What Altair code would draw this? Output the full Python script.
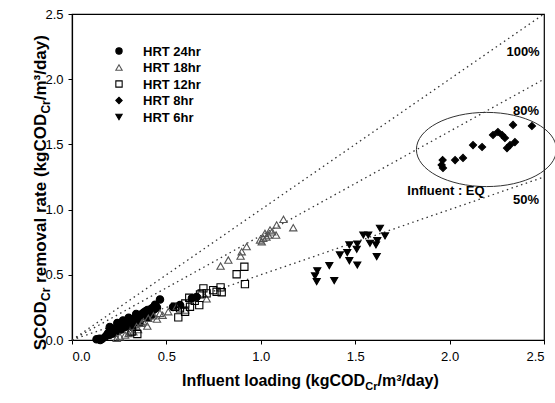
import altair as alt
import pandas as pd

# ---------------- data ----------------
series_order = ["HRT 24hr", "HRT 18hr", "HRT 12hr", "HRT 8hr", "HRT 6hr"]
series_shapes = ["circle", "triangle-up", "square", "diamond", "triangle-down"]
series_fills = ["black", "transparent", "transparent", "black", "black"]
series_strokes = ["black", "#555555", "black", "black", "black"]
series_sizes = [55, 50, 50, 75, 80]

hrt24_x = [0.13, 0.145, 0.16, 0.15, 0.18, 0.19, 0.20, 0.20, 0.21, 0.22, 0.22, 0.23, 0.24, 0.24,
           0.25, 0.26, 0.26, 0.27, 0.28, 0.28, 0.29, 0.30, 0.30, 0.31, 0.32, 0.32, 0.33, 0.34,
           0.34, 0.35, 0.36, 0.36, 0.37, 0.38, 0.38, 0.39, 0.40, 0.40, 0.41, 0.42, 0.43, 0.43,
           0.44, 0.45, 0.466, 0.27, 0.30, 0.34, 0.20, 0.24, 0.40, 0.44, 0.42, 0.36, 0.32,
           0.535, 0.572, 0.635, 0.66]
hrt24_y = [0.005, 0.01, 0.01, 0.0, 0.03, 0.05, 0.04, 0.07, 0.06, 0.08, 0.05, 0.09, 0.07, 0.10,
           0.09, 0.11, 0.08, 0.12, 0.10, 0.13, 0.12, 0.14, 0.11, 0.15, 0.13, 0.16, 0.15, 0.17,
           0.14, 0.18, 0.17, 0.19, 0.20, 0.19, 0.21, 0.22, 0.21, 0.23, 0.22, 0.24, 0.23, 0.25,
           0.24, 0.25, 0.31, 0.15, 0.17, 0.20, 0.10, 0.13, 0.17, 0.27, 0.19, 0.13, 0.10,
           0.253, 0.268, 0.32, 0.33]

hrt18_x = [1.172, 1.12, 1.084, 1.081, 1.049, 1.022, 0.996, 1.013, 1.04, 1.005, 1.03, 1.06,
           0.925, 0.899, 0.893, 0.828, 0.787, 0.713, 0.599, 0.554, 0.51, 0.466, 0.431, 0.404,
           0.378, 0.399, 0.369, 0.342, 0.325, 0.307, 0.281, 0.254, 0.237, 0.35, 0.45, 0.48, 0.30]
hrt18_y = [0.861, 0.925, 0.882, 0.805, 0.844, 0.818, 0.767, 0.78, 0.805, 0.754, 0.79, 0.83,
           0.716, 0.677, 0.644, 0.613, 0.567, 0.316, 0.23, 0.255, 0.217, 0.205, 0.185, 0.166,
           0.14, 0.107, 0.128, 0.102, 0.064, 0.07, 0.038, 0.025, 0.013, 0.08, 0.16, 0.19, 0.05]

hrt12_x = [0.913, 0.872, 0.916, 0.787, 0.793, 0.748, 0.696, 0.678, 0.713, 0.766, 0.674, 0.621,
           0.625, 0.599, 0.572, 0.563, 0.546, 0.316, 0.346, 0.65, 0.60, 0.687]
hrt12_y = [0.562, 0.504, 0.429, 0.404, 0.366, 0.383, 0.396, 0.350, 0.358, 0.370, 0.268, 0.324,
           0.255, 0.217, 0.243, 0.174, 0.255, 0.064, 0.046, 0.30, 0.28, 0.358]

hrt8_x = [1.963, 1.958, 1.965, 2.029, 2.071, 2.124, 2.172, 2.230, 2.256, 2.278, 2.293, 2.336,
          2.346, 2.320, 2.304, 2.436]
hrt8_y = [1.380, 1.342, 1.319, 1.380, 1.396, 1.495, 1.480, 1.572, 1.595, 1.572, 1.549, 1.649,
          1.518, 1.495, 1.472, 1.641]

hrt6_x = [1.631, 1.543, 1.569, 1.658, 1.578, 1.617, 1.610, 1.511, 1.469, 1.508, 1.458, 1.419,
          1.469, 1.511, 1.614, 1.363, 1.299, 1.287, 1.296, 1.389]
hrt6_y = [0.857, 0.805, 0.805, 0.798, 0.742, 0.762, 0.729, 0.736, 0.729, 0.696, 0.670, 0.652,
          0.608, 0.575, 0.639, 0.570, 0.531, 0.491, 0.447, 0.455]

# reference (removal efficiency) lines: endpoints
ref_names = ["100%", "100%", "80%", "80%", "50%", "50%"]
ref_x = [0.0, 2.5, 0.0, 2.5, 0.0, 2.5]
ref_y = [0.0, 2.5, 0.0, 2.0, 0.0, 1.25]

# annotations
ann_text = ["100%", "80%", "50%", "Influent : EQ"]
ann_x = [2.389, 2.405, 2.405, 1.981]
ann_y = [2.209, 1.756, 1.074, 1.143]

ellipse_x = [2.195]
ellipse_y = [1.461]

# ---------------- build tables ----------------
frames = []
for name, xs, ys in [("HRT 24hr", hrt24_x, hrt24_y), ("HRT 18hr", hrt18_x, hrt18_y),
                     ("HRT 12hr", hrt12_x, hrt12_y), ("HRT 8hr", hrt8_x, hrt8_y),
                     ("HRT 6hr", hrt6_x, hrt6_y)]:
    frames.append(pd.DataFrame({"series": name, "x": xs, "y": ys}))
pts = pd.concat(frames, ignore_index=True)
refs = pd.DataFrame({"line": ref_names, "x": ref_x, "y": ref_y})
ann = pd.DataFrame({"label": ann_text, "x": ann_x, "y": ann_y})
ell = pd.DataFrame({"x": ellipse_x, "y": ellipse_y})

FONT = "Liberation Sans"
xscale = alt.Scale(domain=[0, 2.5], nice=False, zero=False)
yscale = alt.Scale(domain=[0, 2.5], nice=False, zero=False)
tick_vals = [0.0, 0.5, 1.0, 1.5, 2.0, 2.5]

xenc = alt.X("x:Q", scale=xscale,
             axis=alt.Axis(title=None, values=tick_vals, format=".1f", labelPadding=6))
yenc = alt.Y("y:Q", scale=yscale,
             axis=alt.Axis(title=None, values=tick_vals, format=".1f"))

shape_enc = alt.Shape("series:N", scale=alt.Scale(domain=series_order, range=series_shapes), legend=None)
fill_enc = alt.Fill("series:N", scale=alt.Scale(domain=series_order, range=series_fills), legend=None)
stroke_enc = alt.Stroke("series:N", scale=alt.Scale(domain=series_order, range=series_strokes), legend=None)

lines = alt.Chart(refs).mark_line(color="#333333", strokeDash=[1.5, 3.5], strokeWidth=1.3).encode(
    x=xenc, y=yenc, detail="line:N")

points = alt.Chart(pts).mark_point(opacity=1, strokeWidth=1.1).encode(
    x=xenc, y=yenc, shape=shape_enc, fill=fill_enc, stroke=stroke_enc,
    size=alt.Size("series:N", scale=alt.Scale(domain=series_order, range=series_sizes), legend=None),
)

texts = alt.Chart(ann).mark_text(font=FONT, fontSize=13, fontWeight="bold",
                                 color="black").encode(x=xenc, y=yenc, text="label:N")

ellipse = alt.Chart(ell).mark_point(
    shape="M-1,0A1,0.53,0,1,1,1,0A1,0.53,0,1,1,-1,0Z",
    size=19600, filled=False, stroke="#333333", strokeWidth=1, opacity=1
).encode(x=xenc, y=yenc)

# ---------------- manual legend ----------------
legend_layers = []
for i, name in enumerate(series_order):
    row = pd.DataFrame({"series": [name]})
    ypos = 37 + 16.5 * i
    legend_layers.append(
        alt.Chart(row).mark_point(opacity=1, strokeWidth=1.1, size=40).encode(
            x=alt.value(47), y=alt.value(ypos),
            shape=shape_enc, fill=fill_enc, stroke=stroke_enc))
    legend_layers.append(
        alt.Chart(row).mark_text(font=FONT, fontSize=13, fontWeight="bold", color="black",
                                 align="left", baseline="middle").encode(
            x=alt.value(71), y=alt.value(ypos + 0.5), text="series:N"))

one = pd.DataFrame({"k": [0]})

def piece(txt, x, y, size, align, angle=0):
    return alt.Chart(one).mark_text(
        text=txt, font=FONT, fontSize=size, fontWeight="bold", color="black",
        align=align, baseline="alphabetic", angle=angle
    ).encode(x=alt.value(x), y=alt.value(y))

# x-axis title: Influent loading (kgCOD_Cr/m3/day)
xt = [
    piece("Influent loading (kgCOD", 293.1, 372, 16, "right"),
    piece("Cr", 293.3, 376, 11, "left"),
    piece("/m\u00b3/day)", 305.5, 372, 16, "left"),
]
# y-axis title: SCOD_Cr removal rate (kgCOD_Cr/m3/day)  (text runs upward)
yt = [
    piece("SCOD", -26, 287.2, 17, "right", 270),
    piece("Cr", -22, 287.0, 12, "left", 270),
    piece(" removal rate (kgCOD", -26, 99.8, 17, "right", 270),
    piece("Cr", -22, 99.6, 12, "left", 270),
    piece("/m\u00b3/day)", -26, 86.3, 17, "left", 270),
]

chart = alt.layer(lines, ellipse, points, texts, *legend_layers, *xt, *yt).properties(
    width=472, height=326,
    padding={"left": 72, "top": 14, "right": 11, "bottom": 63},
    autosize=alt.AutoSizeParams(type="none"),
).configure_view(
    stroke="black", strokeWidth=1.2
).configure_axis(
    labelFont=FONT, labelFontSize=13, labelColor="black",
    domainColor="black", domainWidth=1.2, tickColor="black", tickSize=4,
    labelPadding=5, grid=False
)

chart.save("out.html", embed_options={"renderer": "svg", "actions": False})
